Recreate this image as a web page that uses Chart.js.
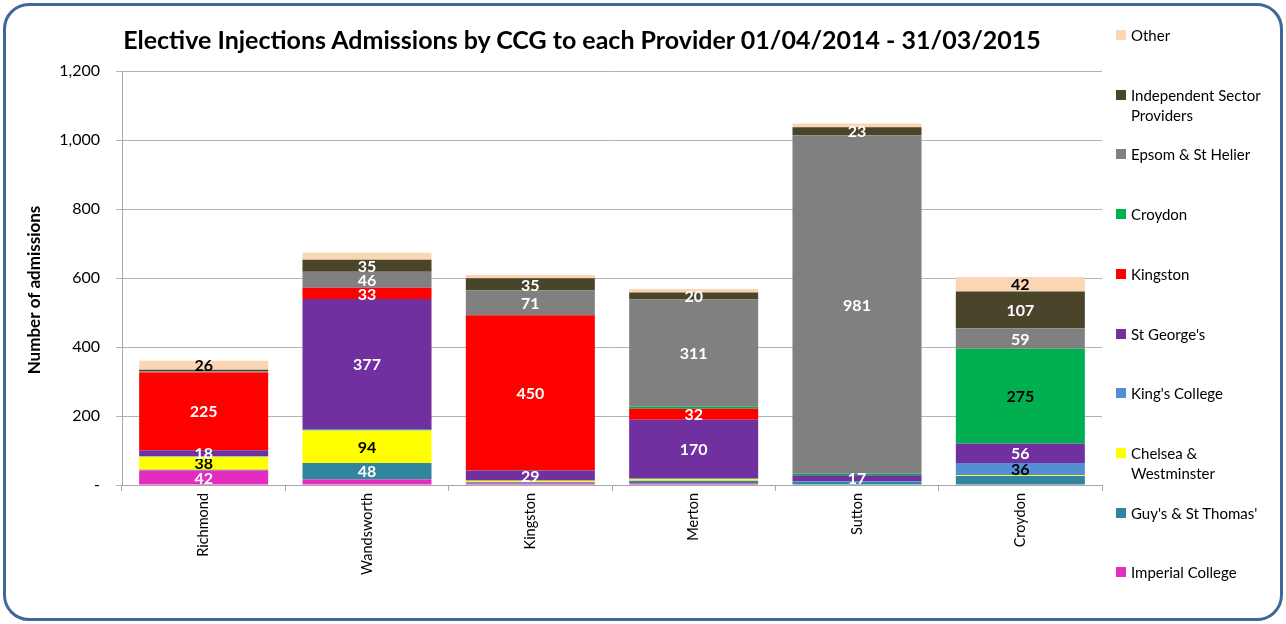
<!DOCTYPE html>
<html>
<head>
<meta charset="utf-8">
<script src="https://cdn.jsdelivr.net/npm/chart.js@4.4.1/dist/chart.umd.min.js"></script>
<style>
  html, body { margin: 0; padding: 0; background: #fff; }
  #frame {
    position: absolute; left: 3px; top: 3px; width: 1274px; height: 612px;
    border: 3px solid #41679a; border-radius: 26px; background: #fff;
  }
  #wrap { position: absolute; left: 0; top: 0; width: 1286px; height: 624px; }
  #title {
    position: absolute; left: 0; width: 1164px; top: 24px; text-align: center;
    font: bold 25px Lato, sans-serif; color: #000; white-space: nowrap;
  }
  #legend { position: absolute; left: 0; top: 0; }
  .lg-item {
    position: absolute; left: 1116px; width: 165px;
    font: 15px Lato, sans-serif; line-height: 20px; color: #000;
  }
  .lg-item span.sw {
    position: absolute; left: 0; top: 5px; width: 10px; height: 10px;
  }
  .lg-item div.tx { margin-left: 15px; width: 140px; }
</style>
</head>
<body>
<div id="frame"></div>
<div id="wrap"><canvas id="chart" width="1286" height="624"></canvas></div>
<div id="title">Elective Injections Admissions by CCG to each Provider 01/04/2014 - 31/03/2015</div>
<div id="legend"></div>
<script>
// ── Data ──────────────────────────────────────────────────────────────────────
const categories  = ['Richmond', 'Wandsworth', 'Kingston', 'Merton', 'Sutton', 'Croydon'];

// stacked bottom -> top
const imperial    = [42,  16,   5,   5,   0,   0];
const guys        = [ 2,  48,   3,   7,   9,  26];
const chelsea     = [38,  94,   4,   5,   0,   2];
const kingsColl   = [ 1,   4,   1,   2,   2,  36];
const stGeorges   = [18, 377,  29, 170,  17,  56];
const kingston    = [225, 33, 450,  32,   0,   0];
const croydon     = [ 0,   0,   1,   6,   5, 275];
const epsom       = [ 4,  46,  71, 311, 981,  59];
const independent = [ 4,  35,  35,  20,  23, 107];
const other       = [26,  20,  10,  10,  11,  42];

const yTicks = [0, 200, 400, 600, 800, 1000, 1200];

// labels Excel left off even though the segment is big enough
const hiddenLabels = ['Other|Wandsworth', "Guy's & St Thomas'|Croydon"];
const LABEL_MIN = 17;

const series = [
  { label: 'Imperial College',             data: imperial,    color: '#e32dbf', dark: false },
  { label: "Guy's & St Thomas'",           data: guys,        color: '#31859c', dark: false },
  { label: 'Chelsea & Westminster',        data: chelsea,     color: '#ffff00', dark: true  },
  { label: "King's College",               data: kingsColl,   color: '#558ed5', dark: true  },
  { label: "St George's",                  data: stGeorges,   color: '#7030a0', dark: false },
  { label: 'Kingston',                     data: kingston,    color: '#ff0000', dark: false },
  { label: 'Croydon',                      data: croydon,     color: '#00b050', dark: true  },
  { label: 'Epsom & St Helier',            data: epsom,       color: '#808080', dark: false },
  { label: 'Independent Sector Providers', data: independent, color: '#4a452a', dark: false },
  { label: 'Other',                        data: other,       color: '#fcd5b5', dark: true  },
];

// ── Segment value labels (no datalabels plugin offline) ───────────────────────
const valueLabels = {
  id: 'valueLabels',
  afterDatasetsDraw(chart) {
    const ctx = chart.ctx;
    ctx.save();
    ctx.font = 'bold 16px Lato, sans-serif';
    ctx.textAlign = 'center';
    ctx.textBaseline = 'middle';
    chart.data.datasets.forEach((ds, di) => {
      const meta = chart.getDatasetMeta(di);
      meta.data.forEach((bar, i) => {
        const v = ds.data[i];
        if (v < LABEL_MIN || hiddenLabels.includes(ds.label + '|' + categories[i])) return;
        ctx.fillStyle = series[di].dark ? '#000' : '#fff';
        ctx.fillText(String(v), bar.x, (bar.y + bar.base) / 2 + 1);
      });
    });
    ctx.restore();
  }
};

// y title sits a little below the plot middle in the original, so draw it here
const yTitle = {
  id: 'yTitle',
  afterDraw(chart) {
    const ctx = chart.ctx;
    const mid = (chart.chartArea.top + chart.chartArea.bottom) / 2 + 12;
    ctx.save();
    ctx.translate(35, mid);
    ctx.rotate(-Math.PI / 2);
    ctx.font = 'bold 17px Lato, sans-serif';
    ctx.fillStyle = '#000';
    ctx.textAlign = 'center';
    ctx.textBaseline = 'middle';
    ctx.fillText('Number of admissions', 0, 0);
    ctx.restore();
  }
};

Chart.defaults.font.family = 'Lato, sans-serif';
Chart.defaults.color = '#000';

new Chart(document.getElementById('chart'), {
  type: 'bar',
  data: {
    labels: categories,
    datasets: series.map(s => ({
      label: s.label,
      data: s.data,
      backgroundColor: s.color,
      borderWidth: 0,
      categoryPercentage: 1,
      barPercentage: 0.79,
    })),
  },
  options: {
    responsive: false,
    animation: false,
    layout: { padding: { left: 10, right: 184, top: 71, bottom: 0 } },
    plugins: {
      legend: { display: false },
      tooltip: { enabled: false },
      title: { display: false },
    },
    scales: {
      x: {
        stacked: true,
        offset: true,
        afterFit: s => { s.height = 139; },
        grid: { offset: true, drawOnChartArea: false, drawTicks: true, tickLength: 6, color: '#a6a6a6' },
        border: { color: '#a6a6a6' },
        ticks: {
          autoSkip: false, minRotation: 90, maxRotation: 90, padding: 2,
          font: { size: 14.5 }, color: '#000',
        },
      },
      y: {
        stacked: true,
        min: 0,
        max: 1200,
        afterFit: s => { s.width = 112; },
        afterBuildTicks: s => { s.ticks = yTicks.map(v => ({ value: v })); },
        grid: { color: '#b3b3b3', tickLength: 6, drawTicks: true },
        border: { color: '#a6a6a6' },
        ticks: {
          padding: 16,
          font: { size: 16 }, color: '#000',
          callback: v => v === 0 ? '-' : v.toLocaleString('en-US'),
        },
      },
    },
  },
  plugins: [valueLabels, yTitle],
});

// ── Legend (top item = last series, Excel style) ──────────────────────────────
const legendEl = document.getElementById('legend');
series.slice().reverse().forEach((s, i) => {
  const item = document.createElement('div');
  item.className = 'lg-item';
  item.style.top = Math.round(25 + i * 59.7) + 'px';
  item.innerHTML = '<span class="sw"></span><div class="tx"></div>';
  item.querySelector('.sw').style.background = s.color;
  item.querySelector('.tx').textContent = s.label;
  legendEl.appendChild(item);
});
</script>
</body>
</html>
